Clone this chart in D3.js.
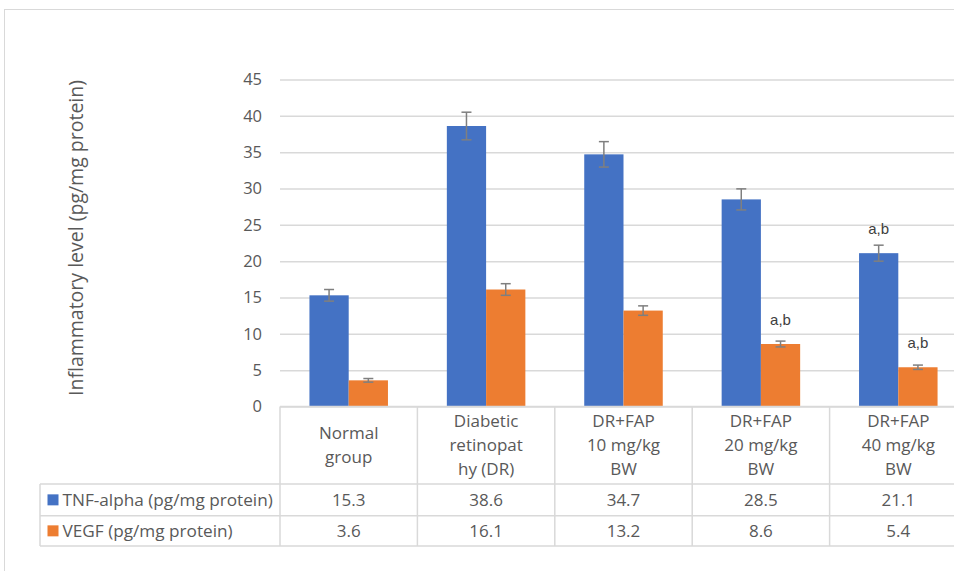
<!DOCTYPE html>
<html>
<head>
<meta charset="utf-8">
<script src="https://cdn.jsdelivr.net/npm/d3@7"></script>
<style>
  html, body { margin: 0; padding: 0; background: #fff; }
  svg { display: block; font-family: "Open Sans", "Liberation Sans", sans-serif; }
</style>
</head>
<body>
<svg id="chart" width="954" height="571"></svg>
<script>
// ---- data ----
const categories = ["Normal group", "Diabetic retinopathy (DR)", "DR+FAP 10 mg/kg BW", "DR+FAP 20 mg/kg BW", "DR+FAP 40 mg/kg BW"];
const categoryLines = [["Normal", "group"], ["Diabetic", "retinopat", "hy (DR)"], ["DR+FAP", "10 mg/kg", "BW"], ["DR+FAP", "20 mg/kg", "BW"], ["DR+FAP", "40 mg/kg", "BW"]];
const seriesNames = ["TNF-alpha (pg/mg protein)", "VEGF (pg/mg protein)"];
const tnfValues = [15.3, 38.6, 34.7, 28.5, 21.1];
const vegfValues = [3.6, 16.1, 13.2, 8.6, 5.4];
const tnfErrors = [0.8, 1.9, 1.75, 1.45, 1.1];
const vegfErrors = [0.25, 0.8, 0.65, 0.4, 0.3];
const tnfMarks = ["", "", "", "", "a,b"];
const vegfMarks = ["", "", "", "a,b", "a,b"];
const yTicks = [0, 5, 10, 15, 20, 25, 30, 35, 40, 45];
const yTitle = "Inflammatory level (pg/mg protein)";
const colors = ["#4472C4", "#ED7D31"];

const svg = d3.select("#chart");
const gridColor = "#d9d9d9";
const textColor = "#595959";

// outer chart border
svg.append("rect").attr("x", 4.5).attr("y", 9.5).attr("width", 1000).attr("height", 700)
  .attr("fill", "none").attr("stroke", gridColor).attr("stroke-width", 1);

const x = d3.scaleBand().domain(categories).range([280, 967]).paddingInner(0).paddingOuter(0);
const xs = d3.scaleBand().domain(seriesNames).range([0, x.bandwidth()]).paddingInner(0).paddingOuter(0.75);
const y = d3.scaleLinear().domain([0, 45]).range([406.5, 79.5]);

// gridlines + tick labels via axis
const yAxis = d3.axisLeft(y).tickValues(yTicks).tickSize(-(967 - 280)).tickPadding(18);
const ga = svg.append("g").attr("transform", "translate(280,0)").call(yAxis);
ga.select(".domain").remove();
ga.selectAll(".tick line").attr("stroke", gridColor).attr("stroke-width", 1.5);
ga.selectAll(".tick text").attr("fill", textColor).style("font-size", "16.5px")
  .style("font-family", '"Open Sans", sans-serif').attr("x", -18);

// y title
svg.append("text")
  .attr("transform", "translate(83,238) rotate(-90)")
  .attr("text-anchor", "middle")
  .attr("fill", textColor)
  .style("font-size", "19.5px")
  .text(yTitle);

// bars
const series = [
  { name: seriesNames[0], values: tnfValues, errors: tnfErrors, marks: tnfMarks, color: colors[0] },
  { name: seriesNames[1], values: vegfValues, errors: vegfErrors, marks: vegfMarks, color: colors[1] }
];

series.forEach(s => {
  const g = svg.append("g");
  g.selectAll("rect").data(categories).join("rect")
    .attr("x", (c) => x(c) + xs(s.name))
    .attr("y", (c, i) => y(s.values[i]))
    .attr("width", xs.bandwidth())
    .attr("height", (c, i) => y(0) - y(s.values[i]))
    .attr("fill", s.color);
  // error bars
  const eg = svg.append("g").attr("stroke", "#7f7f7f").attr("stroke-width", 1.5);
  categories.forEach((c, i) => {
    const cx = x(c) + xs(s.name) + xs.bandwidth() / 2;
    const top = y(s.values[i] + s.errors[i]);
    const bot = y(s.values[i] - s.errors[i]);
    eg.append("line").attr("x1", cx).attr("x2", cx).attr("y1", top).attr("y2", bot);
    eg.append("line").attr("x1", cx - 5).attr("x2", cx + 5).attr("y1", top).attr("y2", top);
    eg.append("line").attr("x1", cx - 5).attr("x2", cx + 5).attr("y1", bot).attr("y2", bot);
    if (s.marks[i]) {
      svg.append("text")
        .attr("x", cx)
        .attr("y", y(s.values[i]) - 19)
        .attr("text-anchor", "middle")
        .attr("fill", "#404040")
        .style("font-family", '"Liberation Sans", Arial, sans-serif')
        .style("font-size", "15px")
        .text(s.marks[i]);
    }
  });
});

// data table
const tg = svg.append("g").attr("stroke", gridColor).attr("stroke-width", 1.5);
const tableTop = y(0), row1 = 484, row2 = 515.7, row3 = 546, tableLeft = 40, tableRight = 967;
tg.append("line").attr("x1", 280).attr("x2", tableRight).attr("y1", tableTop).attr("y2", tableTop);
[row1, row2, row3].forEach(r => tg.append("line").attr("x1", tableLeft).attr("x2", tableRight).attr("y1", r).attr("y2", r));
tg.append("line").attr("x1", tableLeft).attr("x2", tableLeft).attr("y1", row1).attr("y2", row3);
categories.forEach(c => tg.append("line").attr("x1", x(c)).attr("x2", x(c)).attr("y1", tableTop).attr("y2", row3));
tg.append("line").attr("x1", tableRight).attr("x2", tableRight).attr("y1", tableTop).attr("y2", row3);

// header labels
categories.forEach((c, i) => {
  const lines = categoryLines[i];
  const lh = 24;
  const mid = (tableTop + row1) / 2;
  const t = svg.append("text").attr("text-anchor", "middle").attr("fill", textColor).style("font-size", "17px");
  lines.forEach((ln, k) => {
    t.append("tspan").attr("x", x(c) + x.bandwidth() / 2)
      .attr("y", mid + (k - (lines.length - 1) / 2) * lh)
      .attr("dy", "0.35em").text(ln);
  });
});

// rows
const rowMids = [(row1 + row2) / 2, (row2 + row3) / 2];
series.forEach((s, si) => {
  const ym = rowMids[si];
  svg.append("rect").attr("x", 47.5).attr("y", ym - 5.5).attr("width", 11).attr("height", 11).attr("fill", s.color);
  svg.append("text").attr("x", 62.5).attr("y", ym).attr("dy", "0.35em").attr("fill", textColor)
    .style("font-size", "17.2px").text(s.name);
  categories.forEach((c, i) => {
    svg.append("text").attr("x", x(c) + x.bandwidth() / 2).attr("y", ym).attr("dy", "0.35em")
      .attr("text-anchor", "middle").attr("fill", textColor).style("font-size", "17px")
      .text(s.values[i].toFixed(1));
  });
});
</script>
</body>
</html>
